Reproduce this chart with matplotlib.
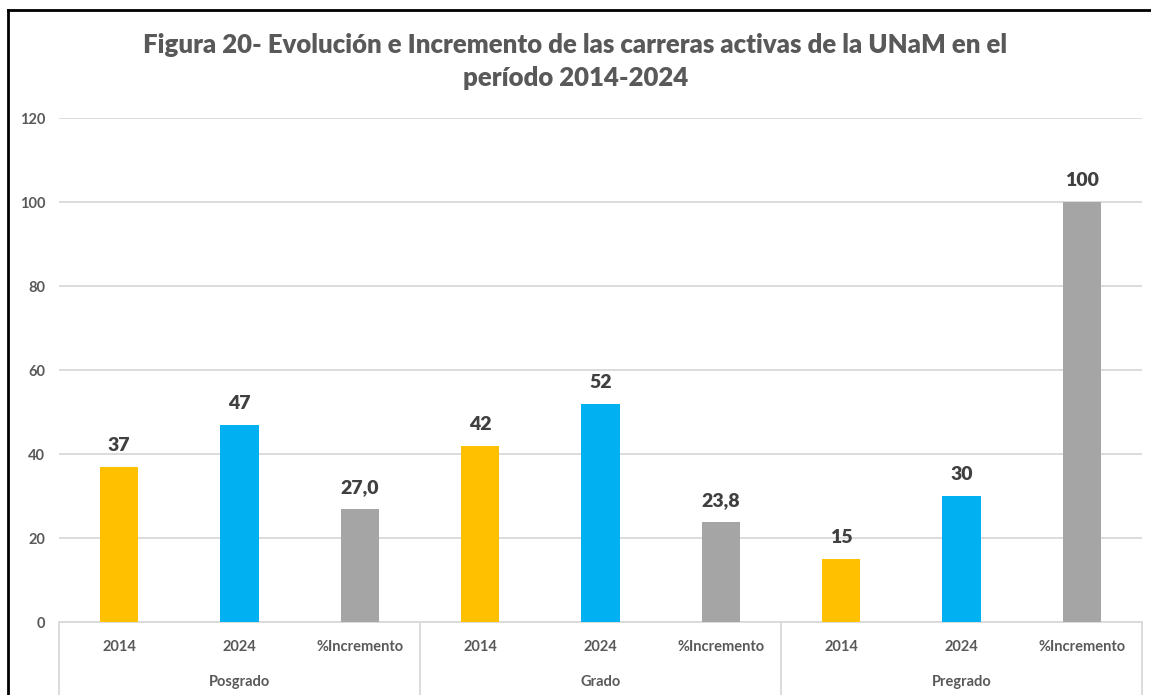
import numpy as np
import matplotlib.pyplot as plt
from matplotlib.lines import Line2D

groups = ["Posgrado", "Grado", "Pregrado"]
subcats = ["2014", "2024", "%Incremento"]
posgrado = [37, 47, 27.0]
grado = [42, 52, 23.8]
pregrado = [15, 30, 100]
labels_pos = ["37", "47", "27,0"]
labels_gra = ["42", "52", "23,8"]
labels_pre = ["15", "30", "100"]

colors = ["#FFC000", "#00B0F0", "#A5A5A5"]
txt = "#595959"
font = ["Lato", "DejaVu Sans"]

plt.rcParams["font.family"] = font

fig = plt.figure(figsize=(11.51, 6.95), dpi=100)
ax = fig.add_axes([59 / 1151, (695 - 622) / 695, (1142 - 59) / 1151, (622 - 118) / 695])

values = posgrado + grado + pregrado
labels = labels_pos + labels_gra + labels_pre
x = np.arange(len(values))
bar_colors = colors * len(groups)
bars = ax.bar(x, values, width=0.32, color=bar_colors, zorder=3)

for b, lab in zip(bars, labels):
    ax.text(b.get_x() + b.get_width() / 2, b.get_height() + 3, lab,
            ha="center", va="bottom", fontsize=14, fontweight="heavy", color="#404040")

ax.set_xlim(-0.5, len(values) - 0.5)
ax.set_ylim(0, 120)
ax.set_yticks(np.arange(0, 121, 20))
ax.yaxis.grid(True, color="#D9D9D9", linewidth=1.3, zorder=0)
ax.set_axisbelow(True)
for s in ["top", "right", "left"]:
    ax.spines[s].set_visible(False)
ax.spines["bottom"].set_color("#D9D9D9")
ax.spines["bottom"].set_linewidth(1.3)
ax.tick_params(axis="y", length=0, labelsize=10.5, labelcolor=txt, pad=10)
for t in ax.get_yticklabels():
    t.set_fontweight("bold")
ax.set_xticks([])

# multi-level category axis
for i, v in enumerate(values):
    ax.text(i, -6, subcats[i % 3], ha="center", va="center", fontsize=10.5,
            fontweight="bold", color=txt, clip_on=False)
for g, name in enumerate(groups):
    ax.text(g * 3 + 1, -14.2, name, ha="center", va="center", fontsize=10.5,
            fontweight="bold", color=txt, clip_on=False)
for k in range(len(groups) + 1):
    ax.add_line(Line2D([k * 3 - 0.5, k * 3 - 0.5], [0, -19], color="#D9D9D9",
                       linewidth=1.3, clip_on=False))

# title
fig.text(0.5, 1 - 61.5 / 695,
         "Figura 20- Evolución e Incremento de las carreras activas de la UNaM en el\nperíodo 2014-2024",
         ha="center", va="center", fontsize=18.5, fontweight="heavy", color=txt, linespacing=1.45)

# outer border (left and top)
fig.add_artist(Line2D([8 / 1151, 8 / 1151], [0, 1 - 10 / 695], color="black",
                      linewidth=2, transform=fig.transFigure))
fig.add_artist(Line2D([8 / 1151, 1], [1 - 10 / 695, 1 - 10 / 695], color="black",
                      linewidth=2, transform=fig.transFigure))

fig.savefig("out.png", dpi=100)
